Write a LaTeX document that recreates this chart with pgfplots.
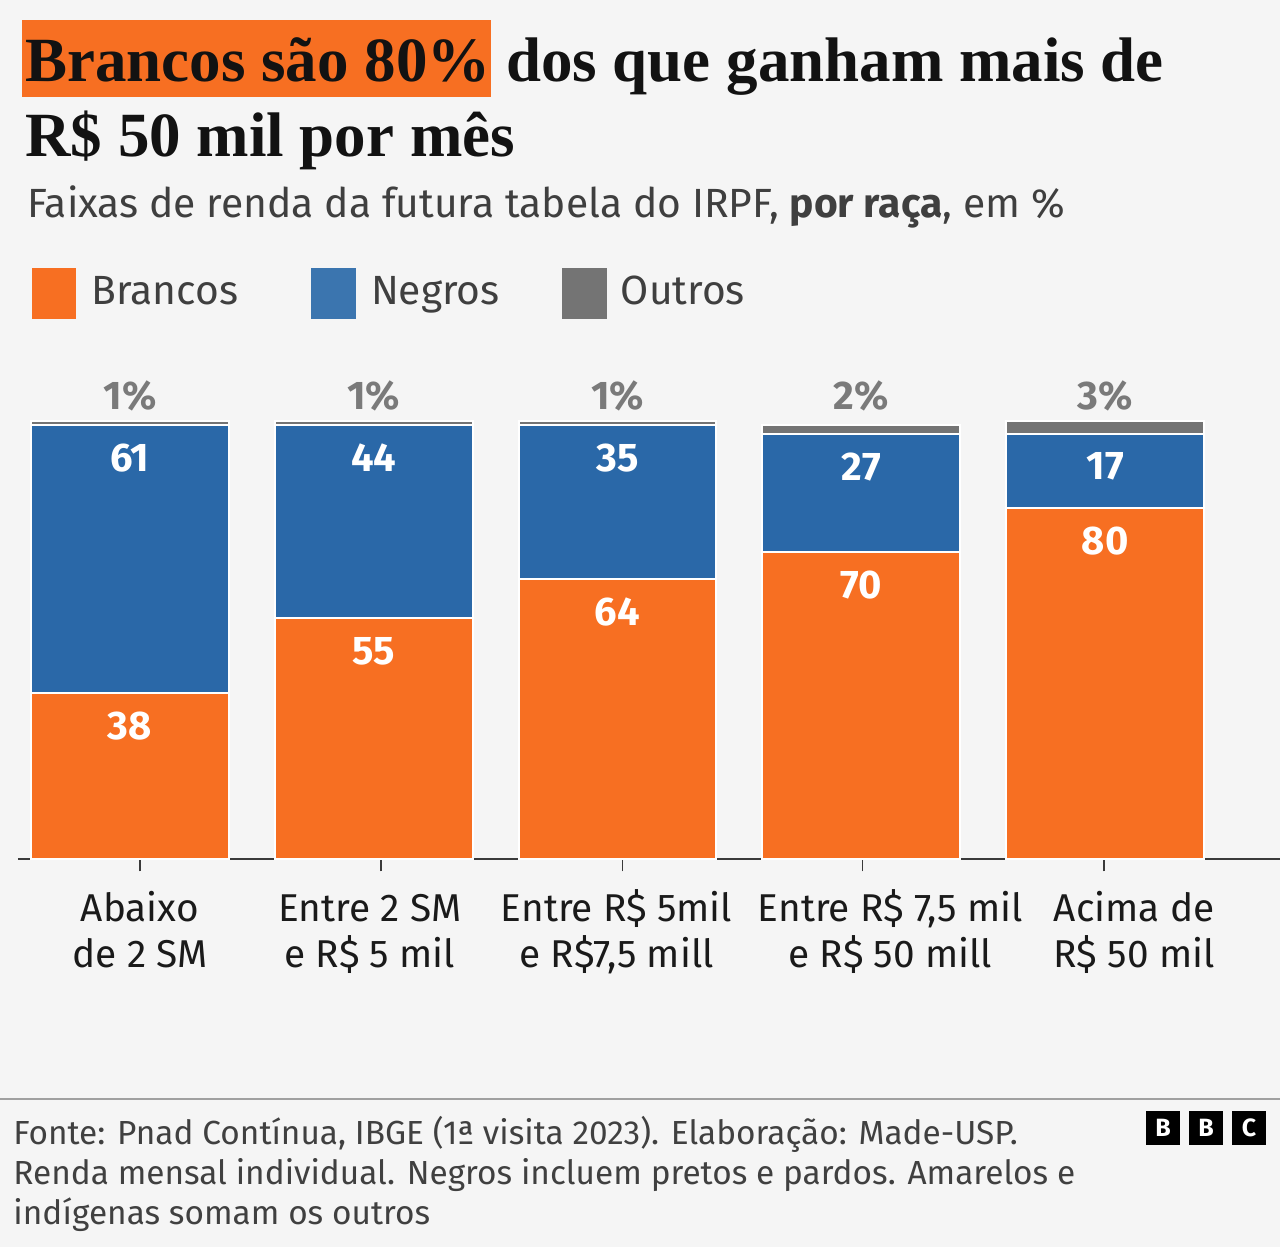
\documentclass[border=0pt]{standalone}
\usepackage{fontspec}
\setmainfont{Fira Sans}
\newfontfamily\titlefont{Liberation Serif}
\usepackage{pgfplots}
\pgfplotsset{compat=1.18}
\definecolor{bg}{HTML}{F5F5F5}
\definecolor{orangeb}{HTML}{F76F22}
\definecolor{blueb}{HTML}{2A68A8}
\definecolor{bluel}{HTML}{3B75AF}
\definecolor{grayb}{HTML}{747474}
\definecolor{grayt}{HTML}{7A7A7A}
\definecolor{titlec}{HTML}{121212}
\definecolor{subc}{HTML}{3F3F3F}
\definecolor{tickc}{HTML}{1A1A1A}
\definecolor{axc}{HTML}{3A3A3A}
\definecolor{rulec}{HTML}{A0A0A0}
\definecolor{footc}{HTML}{404040}
\newcommand\ls{\vphantom{Ab\$}}
\pgfplotsset{chartgeom/.style={at={(9pt,194pt)}, anchor=south west, scale only axis,
  width=631.5pt, height=219.5pt,
  xmin=-0.459, xmax=4.717, ymin=0, ymax=100, clip=false}}
\begin{document}
\begin{tikzpicture}
\begin{scope}[x=0.5pt,y=-0.5pt,shift={(0pt,624pt)}]
\useasboundingbox (0,0) rectangle (1281,1248);
\fill[bg] (0,0) rectangle (1281,1248);
% title
\fill[orangeb] (22,20) rectangle (491,97);
\node[anchor=base west, inner sep=0, text=titlec, font=\titlefont\bfseries\fontsize{31.5}{36}\selectfont] at (25,82) {Brancos são 80\% dos que ganham mais de};
\node[anchor=base west, inner sep=0, text=titlec, font=\titlefont\bfseries\fontsize{31.5}{36}\selectfont] at (25,157) {R\$ 50 mil por mês};
\node[anchor=base west, inner sep=0, text=subc, font=\fontsize{20.4}{24}\selectfont] at (27,218) {Faixas de renda da futura tabela do IRPF, \textbf{por raça}, em \%};
% legend
\fill[orangeb] (32,268) rectangle (76,319);
\node[anchor=base west, inner sep=0, text=subc, font=\fontsize{20.4}{24}\selectfont] at (91,305) {Brancos};
\fill[bluel] (311,268) rectangle (356,319);
\node[anchor=base west, inner sep=0, text=subc, font=\fontsize{20.4}{24}\selectfont] at (371,305) {Negros};
\fill[grayb] (562,268) rectangle (607,319);
\node[anchor=base west, inner sep=0, text=subc, font=\fontsize{20.4}{24}\selectfont] at (621,305) {Outros};
% footer
\draw[rulec, line width=1pt] (0,1100) -- (1281,1100);
\node[anchor=base west, inner sep=0, text=footc, font=\fontsize{16.7}{20}\selectfont] at (13,1145) {Fonte: Pnad Contínua, IBGE (1ª visita 2023). Elaboração: Made-USP.};
\node[anchor=base west, inner sep=0, text=footc, font=\fontsize{16.7}{20}\selectfont] at (13,1185) {Renda mensal individual. Negros incluem pretos e pardos. Amarelos e};
\node[anchor=base west, inner sep=0, text=footc, font=\fontsize{16.7}{20}\selectfont] at (13,1225) {indígenas somam os outros};
\foreach \xx/\ll in {1147/B,1190/B,1233/C}{
  \fill[black] (\xx,1112) rectangle ++(34,34);
  \node[text=white, font=\bfseries\fontsize{12.5}{14}\selectfont, inner sep=0] at (\xx+17,1129) {\ll};
}
\end{scope}
% chart
\begin{axis}[chartgeom,
  axis x line=bottom, axis y line=none,
  x axis line style={-, draw=axc, line width=1pt},
  xtick={0.041,0.984,1.996,3.119,4.119},
  xticklabels={{\ls Abaixo\\de 2 SM},{\ls Entre 2 SM\\e R\$ 5 mil},{\ls Entre R\$ 5mil\\e R\$7,5 mill},{\ls Entre R\$ 7,5 mil\\e R\$ 50 mill},{\ls Acima de\\R\$ 50 mil}},
  xticklabel style={align=center, font=\fontsize{19.4}{23}\selectfont, text=tickc, yshift=-11.5pt},
  tick align=outside, major tick length=0pt,
  extra x ticks={0.041,1.029,2.020,3.004,3.994},
  extra x tick labels={},
  extra x tick style={major tick length=6pt, tick style={draw=axc, line width=0.8pt}},
  ybar stacked, bar width=99pt,
]
\addplot[fill=orangeb, draw=white, line width=1pt]
  coordinates {(0,38) (1,55) (2,64) (3,70) (4,80)};
\addplot[fill=blueb, draw=white, line width=1pt]
  coordinates {(0,61) (1,44) (2,35) (3,27) (4,17)};
\addplot[fill=grayb, draw=white, line width=1pt]
  coordinates {(0,1) (1,1) (2,1) (3,2) (4,3)};
\end{axis}
\begin{axis}[chartgeom, hide axis,
  every node near coord/.append style={anchor=center, inner sep=0pt, font=\bfseries\fontsize{20}{24}\selectfont},
]
% labels inside the segments, near the top of each segment
\addplot[draw=none, nodes near coords, point meta=explicit symbolic,
  every node near coord/.append style={text=white, yshift=-16.5pt}]
  coordinates {(0,38)[38] (1,55)[55] (2,64)[64] (3,70)[70] (4,80)[80]};
\addplot[draw=none, nodes near coords, point meta=explicit symbolic,
  every node near coord/.append style={text=white, yshift=-16.5pt}]
  coordinates {(0,99)[61] (1,99)[44] (2,99)[35] (3,97)[27] (4,97)[17]};
% share of others, above the bars
\addplot[draw=none, nodes near coords, point meta=explicit symbolic,
  every node near coord/.append style={text=grayt}]
  coordinates {(0,105.7)[1\%] (1,105.7)[1\%] (2,105.7)[1\%] (3,105.7)[2\%] (4,105.7)[3\%]};
\end{axis}
\end{tikzpicture}
\end{document}
